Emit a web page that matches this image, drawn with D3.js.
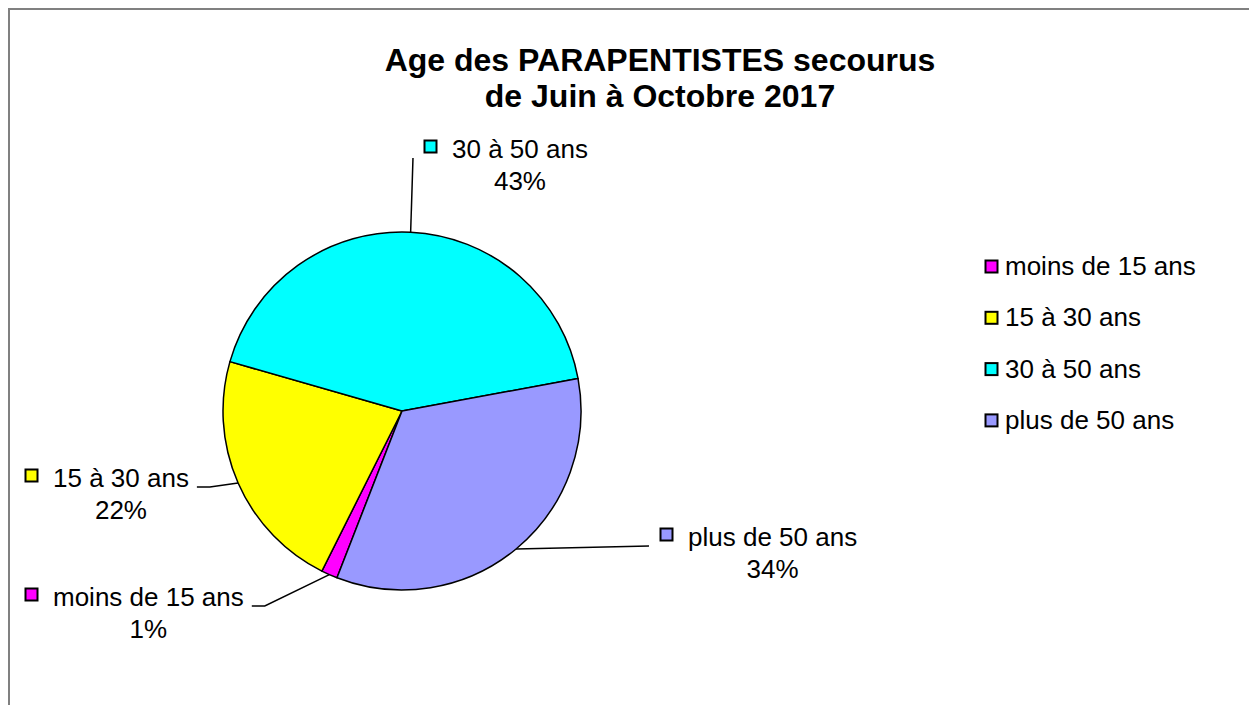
<!DOCTYPE html>
<meta charset="utf-8">
<script src="https://d3js.org/d3.v7.min.js"></script>
<style>
  body { margin: 0; background: #fff; }
  text { font-family: "Liberation Sans", Arial, sans-serif; fill: #000; }
</style>
<div id="chart"></div>
<script>
  // data (counts, shown as rounded percentages)
  var categories = ["moins de 15 ans", "15 à 30 ans", "30 à 50 ans", "plus de 50 ans"];
  var counts = [1, 15, 29, 23];
  var colors = ["#FF00FF", "#FFFF00", "#00FFFF", "#9999FF"];
  var titleLines = ["Age des PARAPENTISTES secourus", "de Juin à Octobre 2017"];

  var width = 1249, height = 705;
  var cx = 402, cy = 411, radius = 179;
  var startDeg = 201.3;

  // where each data label sits (text start x, first baseline y) and which side the leader leaves
  var labelLayout = [
    {x: 53,  y: 606, side: "left"},
    {x: 53,  y: 487, side: "left"},
    {x: 452, y: 158, side: "right"},
    {x: 688, y: 546, side: "right"}
  ];

  var svg = d3.select("#chart")
    .append("svg")
      .attr("width", width)
      .attr("height", height);

  // chart area border
  svg.append("rect")
    .attr("x", 9).attr("y", 9)
    .attr("width", width + 10).attr("height", height + 10)
    .attr("fill", "none")
    .attr("stroke", "#808080")
    .attr("stroke-width", 2);

  // Title
  svg.selectAll(".title")
    .data(titleLines)
    .enter()
    .append("text")
      .attr("class", "title")
      .attr("x", 660)
      .attr("y", function(d, i) { return 71 + i * 36; })
      .attr("text-anchor", "middle")
      .style("font-size", "32px")
      .style("font-weight", "bold")
      .text(function(d) { return d; });

  var total = d3.sum(counts);
  var data = categories.map(function(c, i) { return {name: c, value: counts[i], color: colors[i], layout: labelLayout[i]}; });

  var a0 = startDeg * Math.PI / 180;
  var pie = d3.pie()
    .sort(null)
    .value(function(d) { return d.value; })
    .startAngle(a0)
    .endAngle(a0 + 2 * Math.PI);

  var arc = d3.arc().innerRadius(0).outerRadius(radius);
  var arcs = pie(data);

  var g = svg.append("g").attr("transform", "translate(" + cx + "," + cy + ")");

  g.selectAll("path")
    .data(arcs)
    .enter()
    .append("path")
      .attr("d", arc)
      .attr("fill", function(d) { return d.data.color; })
      .attr("stroke", "#000")
      .attr("stroke-width", 1.5)
      .attr("stroke-linejoin", "round");

  // Data labels with leader lines
  var fs = 26;
  arcs.forEach(function(d) {
    var L = d.data.layout;
    var pct = Math.round(d.data.value / total * 100) + "%";

    var t1 = svg.append("text")
      .attr("x", L.x).attr("y", L.y)
      .style("font-size", fs + "px")
      .text(d.data.name);
    var tw = t1.node().getComputedTextLength();

    svg.append("text")
      .attr("x", L.x + tw / 2).attr("y", L.y + 32)
      .attr("text-anchor", "middle")
      .style("font-size", fs + "px")
      .text(pct);

    svg.append("rect")
      .attr("x", L.x - 27.5).attr("y", L.y - 17.5)
      .attr("width", 12).attr("height", 12)
      .attr("fill", d.data.color)
      .attr("stroke", "#000")
      .attr("stroke-width", 2);

    var mid = (d.startAngle + d.endAngle) / 2;
    var px = cx + radius * Math.sin(mid), py = cy - radius * Math.cos(mid);
    var pts;
    if (L.side === "left") {
      var ex = L.x + tw + 8, ey = L.y;
      pts = [[ex, ey], [ex + 13, ey], [px, py]];
    } else {
      pts = [[L.x - 39, L.y], [px, py]];
    }
    svg.append("path")
      .attr("d", d3.line()(pts))
      .attr("fill", "none")
      .attr("stroke", "#000")
      .attr("stroke-width", 1.5);
  });

  // Legend
  var legend = svg.selectAll(".legend")
    .data(data)
    .enter()
    .append("g")
      .attr("class", "legend")
      .attr("transform", function(d, i) { return "translate(985," + (272 + i * 51.3) + ")"; });

  legend.append("rect")
    .attr("x", 0.5).attr("y", -11.5)
    .attr("width", 12).attr("height", 12)
    .attr("fill", function(d) { return d.color; })
    .attr("stroke", "#000")
    .attr("stroke-width", 2);

  legend.append("text")
    .attr("x", 20).attr("y", 3)
    .style("font-size", fs + "px")
    .text(function(d) { return d.name; });
</script>
